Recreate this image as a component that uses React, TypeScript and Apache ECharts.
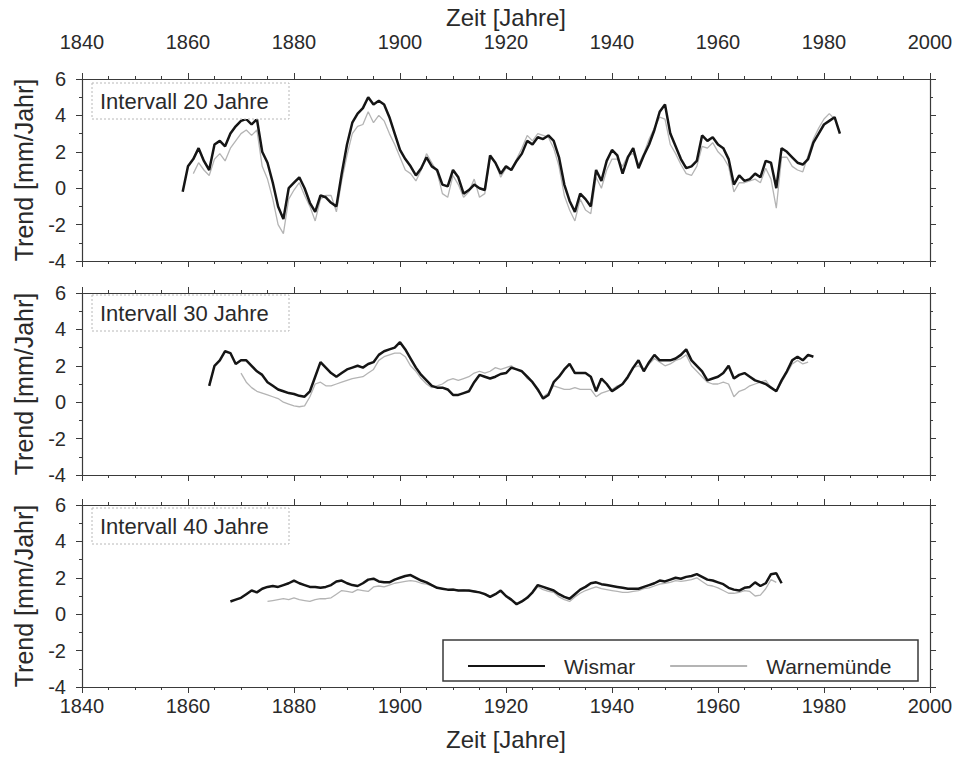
import React, { useEffect, useRef } from "react";
import * as echarts from "echarts";

// ---- data (trend values in mm/Jahr, one value per year) ----
const xTicks = [1840, 1860, 1880, 1900, 1920, 1940, 1960, 1980, 2000];
const yTicks = [-4, -2, 0, 2, 4, 6];
const panelLabels = ["Intervall 20 Jahre", "Intervall 30 Jahre", "Intervall 40 Jahre"];
const seriesNames = ["Wismar", "Warnemünde"];

const wismar20Start = 1859;
const wismar20 = [
  -0.2, 1.2, 1.6, 2.2, 1.5, 1.0, 2.4, 2.6, 2.3, 3.0,
  3.4, 3.7, 3.8, 3.5, 3.8, 2.0, 1.4, 0.3, -1.0, -1.7,
  0.0, 0.3, 0.6, 0.0, -0.8, -1.3, -0.4, -0.5, -0.8, -1.0,
  0.8, 2.4, 3.6, 4.1, 4.4, 5.0, 4.6, 4.8, 4.6, 3.9,
  3.0, 2.1, 1.6, 1.2, 0.7, 1.1, 1.7, 1.2, 1.0, 0.2,
  0.1, 1.0, 0.6, -0.3, -0.1, 0.2, 0.0, -0.1, 1.8, 1.4,
  0.8, 1.2, 1.0, 1.5, 1.9, 2.6, 2.4, 2.8, 2.7, 2.9,
  2.6, 1.7, 0.2, -0.7, -1.3, -0.3, -0.6, -1.0, 1.0, 0.4,
  1.5, 2.1, 1.8, 0.8, 1.7, 2.2, 1.1, 1.8, 2.4, 3.2,
  4.2, 4.6, 3.0, 2.3, 1.6, 1.1, 1.2, 1.5, 2.9, 2.6,
  2.8, 2.4, 2.2, 1.6, 0.2, 0.7, 0.4, 0.5, 0.8, 0.6,
  1.5, 1.4, 0.0, 2.2, 2.0, 1.7, 1.4, 1.3, 1.6, 2.5,
  3.0, 3.5, 3.7, 3.9, 3.0,
];

const warnemuende20Start = 1861;
const warnemuende20 = [
  0.8, 1.4, 1.0, 0.7, 1.6, 1.9, 1.5, 2.2, 2.6, 3.0,
  3.2, 2.9, 3.2, 1.2, 0.5, -0.6, -2.0, -2.5, -0.6, -0.1,
  0.3, -0.4, -1.0, -1.8, -0.6, -0.4, -0.4, -1.3, 0.4, 1.8,
  3.0, 3.4, 3.5, 4.2, 3.6, 4.0, 3.7, 3.0, 2.4, 1.7,
  1.0, 0.8, 0.4, 1.0, 1.9, 1.4, 0.9, -0.3, -0.5, 0.7,
  0.2, -0.5, -0.2, 0.5, -0.5, -0.3, 1.7, 1.4, 0.6, 1.1,
  1.0, 1.6, 2.2, 2.9, 2.6, 3.0, 2.9, 2.8, 2.2, 1.2,
  -0.4, -1.2, -1.8, -0.6, -1.2, -1.4, 0.6, 0.0, 1.0, 1.6,
  1.6, 1.2, 1.8, 1.9, 1.3, 1.9, 2.7, 3.3, 3.9, 3.8,
  2.4, 1.9, 1.3, 0.8, 0.7, 1.2, 2.3, 2.2, 2.5, 2.0,
  1.7, 1.2, -0.2, 0.3, 0.3, 0.4, 0.5, 0.3, 1.1, 0.5,
  -1.1, 1.7, 1.7, 1.2, 1.0, 0.9, 1.8, 2.7, 3.3, 3.8,
  4.1, 3.8,
];

const wismar30Start = 1864;
const wismar30 = [
  0.9, 2.0, 2.3, 2.8, 2.7, 2.1, 2.3, 2.3, 2.0, 1.7,
  1.5, 1.1, 0.9, 0.7, 0.6, 0.5, 0.45, 0.35, 0.3, 0.6,
  1.4, 2.2, 1.9, 1.6, 1.4, 1.6, 1.8, 1.9, 2.0, 1.9,
  2.1, 2.2, 2.6, 2.8, 2.9, 3.0, 3.3, 2.9, 2.4, 1.9,
  1.5, 1.2, 0.9, 0.8, 0.8, 0.7, 0.4, 0.4, 0.5, 0.6,
  1.1, 1.5, 1.4, 1.3, 1.4, 1.55, 1.6, 1.9, 1.8, 1.7,
  1.4, 1.1, 0.7, 0.2, 0.4, 1.1, 1.4, 1.8, 2.1, 1.6,
  1.6, 1.6, 1.4, 0.6, 1.3, 1.0, 0.6, 0.8, 1.0, 1.4,
  1.9, 2.3, 1.7, 2.2, 2.6, 2.3, 2.3, 2.3, 2.4, 2.6,
  2.9, 2.3, 2.0, 1.7, 1.2, 1.3, 1.4, 1.6, 2.0, 1.3,
  1.5, 1.6, 1.4, 1.2, 1.1, 1.0, 0.8, 0.6, 1.2, 1.7,
  2.3, 2.5, 2.3, 2.6, 2.5,
];

const warnemuende30Start = 1870;
const warnemuende30 = [
  1.6, 1.1, 0.8, 0.6, 0.5, 0.4, 0.3, 0.2, 0.0, -0.1,
  -0.2, -0.25, -0.2, 0.3, 1.0, 1.1, 0.9, 0.9, 1.0, 1.1,
  1.2, 1.3, 1.35, 1.4, 1.6, 1.8, 2.3, 2.5, 2.6, 2.7,
  2.7, 2.5, 2.0, 1.7, 1.3, 1.0, 0.8, 0.9, 1.0, 1.2,
  1.3, 1.2, 1.3, 1.4, 1.6, 1.7, 1.6, 1.7, 1.9, 1.8,
  1.9, 2.0, 1.8, 1.7, 1.3, 1.1, 0.6, 0.3, 0.5, 0.9,
  0.8, 0.7, 0.7, 0.8, 0.7, 0.7, 0.7, 0.3, 0.5, 0.6,
  0.7, 0.9, 1.0, 1.3, 1.9, 2.0, 1.8, 2.1, 2.4, 2.2,
  2.0, 2.1, 2.3, 2.4, 2.6, 2.0, 1.7, 1.4, 1.1, 1.0,
  1.0, 1.1, 1.0, 0.3, 0.6, 0.7, 0.9, 1.0, 1.1, 1.2,
  0.8, 0.6, 1.1, 1.6, 2.1, 2.3, 2.1, 2.2,
];

const wismar40Start = 1868;
const wismar40 = [
  0.7, 0.8, 0.9, 1.1, 1.3, 1.2, 1.4, 1.5, 1.55, 1.5,
  1.6, 1.7, 1.85, 1.7, 1.6, 1.5, 1.5, 1.45, 1.5, 1.6,
  1.8, 1.85, 1.7, 1.6, 1.55, 1.7, 1.9, 1.95, 1.8, 1.75,
  1.75, 1.9, 2.0, 2.1, 2.15, 2.0, 1.85, 1.75, 1.6, 1.45,
  1.4, 1.35, 1.35, 1.3, 1.3, 1.3, 1.25, 1.2, 1.1, 0.95,
  1.1, 1.3, 1.0, 0.8, 0.55, 0.7, 0.9, 1.2, 1.6, 1.5,
  1.4, 1.3, 1.1, 0.95, 0.85, 1.1, 1.35, 1.5, 1.7, 1.75,
  1.65, 1.6, 1.55, 1.5, 1.45, 1.4, 1.4, 1.4, 1.5, 1.6,
  1.7, 1.85, 1.8, 1.9, 2.0, 1.95, 2.05, 2.1, 2.2, 2.05,
  1.9, 1.85, 1.75, 1.65, 1.45, 1.35, 1.3, 1.45, 1.5, 1.75,
  1.55, 1.7, 2.2, 2.25, 1.7,
];

const warnemuende40Start = 1875;
const warnemuende40 = [
  0.7, 0.75, 0.8, 0.85, 0.8, 0.9, 0.8, 0.75, 0.7, 0.8,
  0.85, 0.85, 0.9, 1.1, 1.3, 1.25, 1.2, 1.35, 1.3, 1.25,
  1.5, 1.55, 1.5, 1.6, 1.7, 1.75, 1.8, 1.85, 1.8, 1.7,
  1.65, 1.55, 1.45, 1.4, 1.35, 1.4, 1.3, 1.35, 1.25, 1.3,
  1.2, 1.15, 1.0, 1.1, 1.25, 0.95, 0.75, 0.55, 0.75, 0.95,
  1.15, 1.5, 1.35, 1.25, 1.2, 0.95, 0.8, 0.7, 0.95, 1.15,
  1.3, 1.4, 1.5, 1.4, 1.35, 1.3, 1.25, 1.2, 1.2, 1.25,
  1.3, 1.4, 1.45, 1.55, 1.65, 1.7, 1.75, 1.85, 1.8, 1.85,
  1.9, 2.0, 1.8, 1.6, 1.55, 1.45, 1.3, 1.15, 1.15, 1.2,
  1.3, 1.25, 1.0, 1.05, 1.4, 1.9, 1.75,
];

const panels = [
  { w: wismar20, ws: wismar20Start, g: warnemuende20, gs: warnemuende20Start },
  { w: wismar30, ws: wismar30Start, g: warnemuende30, gs: warnemuende30Start },
  { w: wismar40, ws: wismar40Start, g: warnemuende40, gs: warnemuende40Start },
];

const FONT = "'Liberation Sans', Arial, Helvetica, sans-serif";
const INK = "#2a2a2a";
const FRAME = "#3a3a3a";
const DARK = "#151515";
const LIGHT = "#b4b4b4";

const toPairs = (start: number, vals: number[]) => vals.map((v, i) => [start + i, v]);

export default function App() {
  const ref = useRef<HTMLDivElement>(null);

  useEffect(() => {
    if (!ref.current) return;
    const chart = echarts.init(ref.current, null, { renderer: "svg" });

    const gridTops = [79, 293, 505];
    const gridH = 182;
    const grids = gridTops.map((t) => ({ left: 82, right: 36, top: t, height: gridH }));

    const xAxes: any[] = [];
    const yAxes: any[] = [];
    const tickStyle = { color: FRAME, width: 1 };
    gridTops.forEach((_, gi) => {
      (["bottom", "top"] as const).forEach((pos) => {
        const showLabel = (gi === 0 && pos === "top") || (gi === 2 && pos === "bottom");
        xAxes.push({
          type: "value",
          gridIndex: gi,
          position: pos,
          min: xTicks[0],
          max: xTicks[xTicks.length - 1],
          interval: xTicks[1] - xTicks[0],
          name: showLabel ? "Zeit [Jahre]" : "",
          nameLocation: "middle",
          nameGap: pos === "top" ? 50 : 40,
          nameTextStyle: { fontFamily: FONT, fontSize: 24, color: INK },
          axisLine: { show: true, onZero: false, lineStyle: { color: FRAME, width: 1.2 } },
          axisTick: { show: true, inside: false, length: 6, lineStyle: tickStyle },
          minorTick: { show: true, splitNumber: 4, length: 3, lineStyle: tickStyle },
          splitLine: { show: false },
          axisLabel: {
            show: showLabel,
            margin: pos === "top" ? 27 : 9,
            fontFamily: FONT,
            fontSize: 20,
            color: INK,
            formatter: (v: number) => String(v),
          },
        });
      });
      (["left", "right"] as const).forEach((pos) => {
        const showLabel = pos === "left";
        yAxes.push({
          type: "value",
          gridIndex: gi,
          position: pos,
          min: yTicks[0],
          max: yTicks[yTicks.length - 1],
          interval: yTicks[1] - yTicks[0],
          name: showLabel ? "Trend [mm/Jahr]" : "",
          nameLocation: "middle",
          nameGap: 46,
          nameRotate: 90,
          nameTextStyle: { fontFamily: FONT, fontSize: 25, color: INK },
          axisLine: { show: true, onZero: false, lineStyle: { color: FRAME, width: 1.2 } },
          axisTick: { show: true, inside: false, length: 6, lineStyle: tickStyle },
          minorTick: { show: true, splitNumber: 2, length: 3, lineStyle: tickStyle },
          splitLine: { show: false },
          axisLabel: {
            show: showLabel,
            margin: 16,
            fontFamily: FONT,
            fontSize: 20,
            color: INK,
            formatter: (v: number) => String(v),
          },
        });
      });
    });

    const series: any[] = [];
    panels.forEach((p, gi) => {
      series.push({
        name: seriesNames[1],
        type: "line",
        xAxisIndex: gi * 2,
        yAxisIndex: gi * 2,
        data: toPairs(p.gs, p.g),
        showSymbol: false,
        symbol: "none",
        z: 2,
        lineStyle: { color: LIGHT, width: 1.3 },
        itemStyle: { color: LIGHT },
      });
      series.push({
        name: seriesNames[0],
        type: "line",
        xAxisIndex: gi * 2,
        yAxisIndex: gi * 2,
        data: toPairs(p.ws, p.w),
        showSymbol: false,
        symbol: "none",
        z: 3,
        lineStyle: { color: DARK, width: 2.5 },
        itemStyle: { color: DARK },
      });
    });

    const boxTops = [83, 295, 508];
    const graphic: any[] = [];
    boxTops.forEach((t, i) => {
      graphic.push({
        type: "rect",
        shape: { x: 92, y: t, width: 197, height: 36 },
        style: { fill: "#ffffff", stroke: "#b8b8b8", lineWidth: 1, lineDash: [2, 2] },
        z: 10,
      });
      graphic.push({
        type: "text",
        x: 100,
        y: t + 18,
        style: {
          text: panelLabels[i],
          fontFamily: FONT,
          fontSize: 22,
          fill: INK,
          verticalAlign: "middle",
          textAlign: "left",
        },
        z: 11,
      });
    });
    graphic.push({
      type: "rect",
      shape: { x: 443, y: 640, width: 475, height: 41 },
      style: { fill: "#ffffff", stroke: FRAME, lineWidth: 1.5 },
      z: 10,
    });

    chart.setOption({
      animation: false,
      backgroundColor: "#ffffff",
      grid: grids,
      xAxis: xAxes,
      yAxis: yAxes,
      series,
      graphic,
      legend: {
        data: seriesNames,
        icon: "rect",
        left: 463,
        top: 650,
        z: 20,
        itemWidth: 77,
        itemHeight: 2,
        itemGap: 35,
        selectedMode: false,
        textStyle: { fontFamily: FONT, fontSize: 21, color: INK, padding: [0, 0, 0, 14], lineHeight: 22 },
      },
    });

    return () => chart.dispose();
  }, []);

  return (
    <div
      ref={ref}
      style={{ position: "absolute", left: 0, top: 0, width: 966, height: 767, background: "#fff" }}
    />
  );
}
